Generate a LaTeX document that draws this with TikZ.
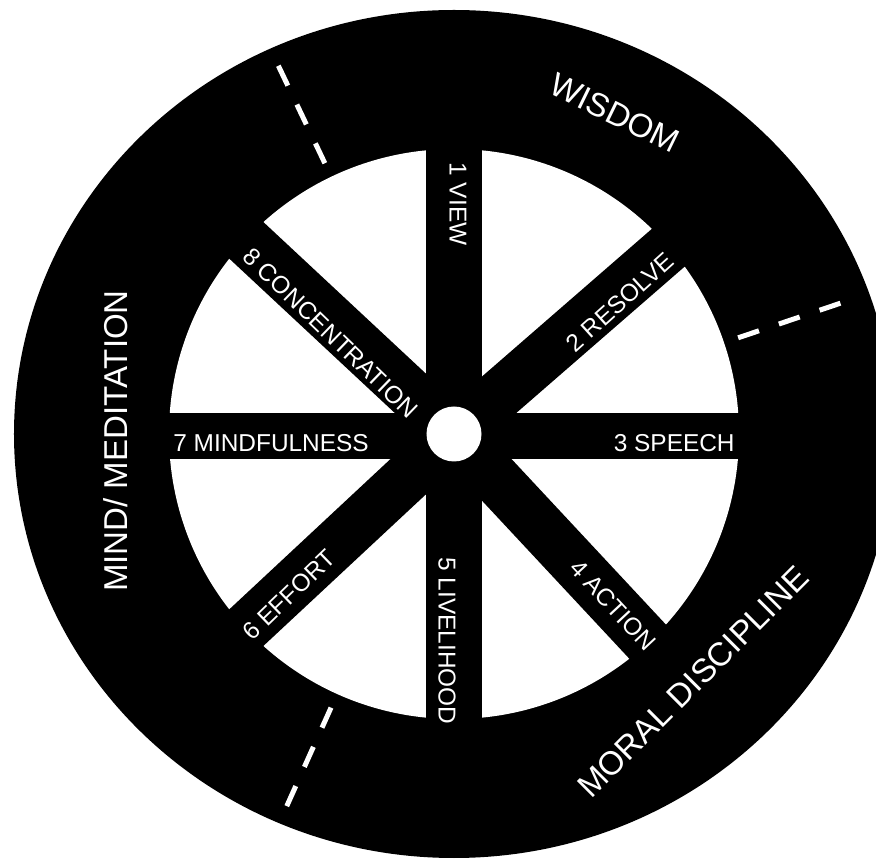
\documentclass[tikz,border=0pt]{standalone}
\usepackage{fontspec}
\setmainfont{Liberation Sans}
\usepackage{tikz}

\begin{document}
\begin{tikzpicture}[
  spokelabel/.style={text=white,inner sep=0pt,font=\fontsize{13.9}{16}\selectfont},
  ringlabel/.style={text=white,inner sep=0pt,font=\fontsize{18.8}{22}\selectfont},
  divider/.style={white,line width=1mm,dash pattern=on 0.44cm off 0.42cm}]
\useasboundingbox (-9.08,-8.5) rectangle (8.44,8.68);
\fill[white] (-9.08,-8.5) rectangle (8.44,8.68);
\begin{scope}
\clip (-9.08,-8.5) rectangle (8.44,8.68);
\fill[black] (0,0) ellipse [x radius=8.8,y radius=8.48];
\end{scope}
\fill[white] (0,0) circle (5.7);
\draw[line width=1.1cm] (0,-6) -- (0,6);
\draw[line width=0.92cm] (-6,-0.04) -- (6,-0.04);
\draw[line width=1cm] (221:0.6) -- (41:6);
\draw[line width=1cm] (43:0.6) -- (223:6);
\draw[line width=1cm] (317:0.6) -- (137:6);
\draw[line width=1cm] (133:0.6) -- (313:6);
\fill[white] (0,0) circle (0.55);
\draw[divider] (115.5:6) -- (115.5:8.2);
\draw[divider] (18.7:6) -- (18.7:8.2);
\draw[divider] (245.8:6) -- (245.8:8.2);
\node[spokelabel,rotate=-90] (view) at (0.08,4.6) {1 VIEW};
\node[spokelabel,rotate=42] (resolve) at (3.32,2.64) {2 RESOLVE};
\node[spokelabel,anchor=base east] (speech) at (5.62,-0.36) {3 SPEECH};
\node[spokelabel,rotate=-47] (action) at (3.18,-3.42) {4 ACTION};
\node[spokelabel,rotate=-90] (livelihood) at (-0.14,-4.14) {5 LIVELIHOOD};
\node[spokelabel,rotate=44] (effort) at (-3.3,-3.22) {6 EFFORT};
\node[spokelabel,anchor=base west] (mindfulness) at (-5.62,-0.36) {7 MINDFULNESS};
\node[spokelabel,rotate=-44] (concentration) at (-2.47,2.02) {8 CONCENTRATION};
\node[ringlabel,rotate=-26] (wisdom) at (3.22,6.42) {WISDOM};
\node[ringlabel,rotate=45] (moral) at (4.78,-4.96) {MORAL DISCIPLINE};
\node[ringlabel,rotate=90] (mind) at (-6.76,-0.14) {MIND/ MEDITATION};
\end{tikzpicture}
\end{document}
